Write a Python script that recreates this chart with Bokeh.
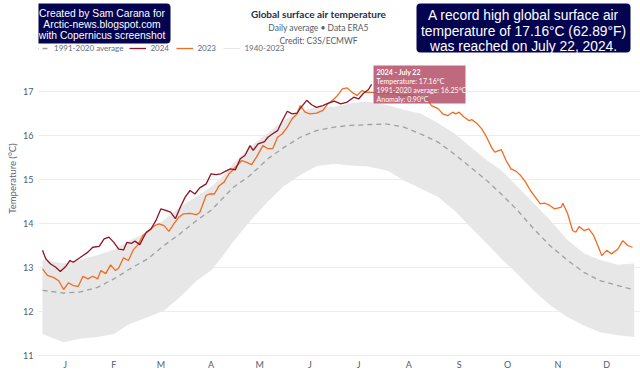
from bokeh.plotting import figure
from bokeh.models import Range1d, FixedTicker, Label, Legend, LegendItem, BoxAnnotation
from bokeh.embed import file_html
from bokeh.resources import INLINE

# ---------------- data (day of year, °C) ----------------
month_ticks = [15, 45, 74, 105, 135, 166, 196, 227, 258, 288, 319, 349]
month_labels = ["J", "F", "M", "A", "M", "J", "J", "A", "S", "O", "N", "D"]
y_ticks = [11, 12, 13, 14, 15, 16, 17]

day_2024 = [1, 3, 6, 9, 12, 15, 18, 20, 24, 29, 32, 36, 39, 42, 45, 48, 51, 53, 56, 58,
            61, 65, 68, 71, 74, 77, 80, 83, 86, 89, 92, 95, 98, 102, 105, 108, 111, 114,
            117, 120, 123, 126, 129, 131, 134, 138, 140, 143, 146, 149, 152, 155, 158,
            161, 164, 167, 170, 174, 177, 181, 185, 189, 193, 196, 199, 202, 204]
t_2024 = [13.39, 13.20, 13.08, 13.01, 12.91, 13.01, 13.16, 13.12, 13.22, 13.35, 13.46,
          13.48, 13.65, 13.69, 13.57, 13.42, 13.40, 13.57, 13.55, 13.60, 13.52, 13.80,
          13.88, 14.07, 14.33, 14.30, 14.26, 14.11, 14.37, 14.60, 14.75, 14.67, 14.81,
          14.90, 15.13, 15.11, 15.13, 15.19, 15.24, 15.22, 15.47, 15.55, 15.77, 15.66,
          15.81, 15.86, 15.96, 16.04, 16.11, 16.34, 16.55, 16.49, 16.51, 16.66, 16.80,
          16.70, 16.64, 16.68, 16.73, 16.78, 16.72, 16.76, 16.87, 16.83, 16.96, 17.04,
          17.16]

day_2023 = [1, 4, 8, 11, 14, 17, 20, 23, 26, 29, 32, 35, 37, 40, 43, 46, 48, 51, 54, 57,
            60, 63, 67, 70, 73, 76, 79, 82, 85, 88, 92, 96, 98, 102, 104, 107, 110, 113,
            116, 118, 121, 124, 127, 130, 133, 137, 140, 143, 146, 149, 152, 155, 158,
            160, 163, 166, 170, 174, 177, 180, 183, 186, 189, 192, 195, 198, 201, 204,
            210, 216, 222, 228, 234, 238, 241, 245, 248, 251, 254, 256, 258, 261, 264,
            266, 269, 272, 275, 278, 280, 284, 287, 290, 293, 296, 299, 302, 305, 308,
            311, 314, 317, 321, 322, 325, 328, 330, 332, 335, 338, 341, 344, 346, 349,
            352, 356, 359, 362, 365]
t_2023 = [12.97, 12.82, 12.77, 12.70, 12.50, 12.65, 12.59, 12.57, 12.80, 12.74, 12.80,
          12.74, 12.93, 12.86, 13.06, 12.93, 12.99, 13.22, 13.16, 13.40, 13.52, 13.73,
          13.84, 13.95, 13.99, 13.95, 13.82, 13.99, 14.14, 14.22, 14.23, 14.20, 14.25,
          14.64, 14.67, 14.67, 14.86, 14.94, 15.13, 15.20, 15.32, 15.43, 15.39, 15.34,
          15.51, 15.77, 15.70, 15.70, 15.96, 16.04, 16.19, 16.38, 16.49, 16.68, 16.53,
          16.49, 16.51, 16.57, 16.72, 16.80, 16.91, 17.06, 17.08, 16.98, 16.91, 17.02,
          16.98, 16.98, 16.95, 16.97, 16.90, 16.92, 16.88, 16.83, 16.68, 16.61, 16.49,
          16.45, 16.53, 16.49, 16.53, 16.42, 16.34, 16.36, 16.27, 16.15, 15.96, 15.73,
          15.62, 15.68, 15.43, 15.24, 15.19, 15.09, 14.94, 14.75, 14.60, 14.45, 14.46,
          14.41, 14.33, 14.37, 14.46, 14.22, 13.84, 13.80, 13.93, 13.84, 13.88, 13.73,
          13.46, 13.27, 13.39, 13.31, 13.42, 13.61, 13.50, 13.46]

avg_day = [1, 14, 24, 35, 45, 55, 66, 76, 86, 96, 105, 119, 129, 140, 150, 160, 170, 181,
           191, 204, 214, 224, 234, 245, 255, 265, 275, 284, 294, 304, 314, 325, 335, 345,
           356, 366]
avg_t = [12.48, 12.42, 12.44, 12.55, 12.74, 12.97, 13.20, 13.50, 13.77, 14.07, 14.30,
         14.83, 15.09, 15.47, 15.73, 15.96, 16.11, 16.19, 16.23, 16.25, 16.26, 16.19,
         16.04, 15.85, 15.58, 15.28, 14.98, 14.67, 14.30, 13.88, 13.50, 13.16, 12.89,
         12.70, 12.59, 12.49]

band_day = [1, 14, 24, 35, 45, 55, 66, 76, 86, 96, 105, 112, 119, 129, 140, 150, 160, 170,
            181, 191, 201, 214, 224, 234, 245, 255, 265, 275, 284, 294, 304, 314, 325, 335,
            345, 356, 366]
band_low = [11.49, 11.30, 11.38, 11.42, 11.49, 11.72, 11.87, 12.02, 12.33, 12.70, 12.93,
            13.25, 13.60, 14.05, 14.50, 14.85, 15.10, 15.30, 15.36, 15.32, 15.30, 15.20,
            14.98, 14.80, 14.60, 14.30, 13.92, 13.55, 13.20, 12.85, 12.48, 12.15, 11.87,
            11.68, 11.53, 11.46, 11.42]
band_high = [13.16, 13.08, 13.16, 13.27, 13.39, 13.61, 13.80, 14.07, 14.37, 14.60, 14.82,
             15.05, 15.36, 15.73, 16.04, 16.34, 16.53, 16.64, 16.64, 16.72, 16.76, 16.68,
             16.57, 16.49, 16.27, 16.04, 15.73, 15.43, 15.20, 14.83, 14.45, 14.07, 13.61,
             13.31, 13.16, 13.05, 13.08]

# ---------------- frame geometry (page px) and px -> data helpers for annotations ----------------
FRAME_L, FRAME_R = 38, 640
FRAME_T, FRAME_B = 0, 356
PX_PER_DAY = 1.621
PX_PER_DEG = 44.0
X_START = 1 - (42 - FRAME_L) / PX_PER_DAY
X_END = X_START + (FRAME_R - FRAME_L) / PX_PER_DAY
Y_START = 11 - (FRAME_B - 355) / PX_PER_DEG
Y_END = Y_START + (FRAME_B - FRAME_T) / PX_PER_DEG


def dx(px):
    return X_START + (px - FRAME_L) / PX_PER_DAY


def dy(py):
    return Y_START + (FRAME_B - py) / PX_PER_DEG


FONT = "Lato"
p = figure(width=640, height=373, frame_width=FRAME_R - FRAME_L,
           frame_height=FRAME_B - FRAME_T, output_backend="svg", toolbar_location=None,
           x_range=Range1d(X_START, X_END), y_range=Range1d(Y_START, Y_END),
           min_border_left=FRAME_L, min_border_right=0, min_border_top=0,
           min_border_bottom=16)
p.outline_line_color = None

p.xaxis.ticker = FixedTicker(ticks=month_ticks)
p.xaxis.major_label_overrides = {t: l for t, l in zip(month_ticks, month_labels)}
p.yaxis.ticker = FixedTicker(ticks=y_ticks)
for ax in (p.xaxis, p.yaxis):
    ax.axis_line_color = None
    ax.major_tick_line_color = None
    ax.minor_tick_line_color = None
    ax.major_tick_out = 0
    ax.major_tick_in = 0
    ax.major_label_text_font = FONT
    ax.major_label_text_font_size = "9px"
    ax.major_label_text_color = "#4f5b6e"
p.xaxis.major_label_standoff = 2
p.yaxis.major_label_standoff = 5
p.yaxis.axis_label = "Temperature (°C)"
p.yaxis.axis_label_text_font = FONT
p.yaxis.axis_label_text_font_style = "normal"
p.yaxis.axis_label_text_font_size = "9.5px"
p.yaxis.axis_label_text_color = "#5a6474"
p.yaxis.axis_label_standoff = 2
p.xgrid.grid_line_color = None
p.ygrid.grid_line_color = "#ececec"
p.ygrid.ticker = FixedTicker(ticks=y_ticks)

band = p.varea(x=band_day, y1=band_low, y2=band_high, fill_color="#e7e7e7")
band_line = p.line(band_day, band_high, line_color="#e7e7e7", line_width=1)
avg = p.line(avg_day, avg_t, line_color="#a0a0a0", line_dash="5 4", line_width=1.3)
l23 = p.line(day_2023, t_2023, line_color="#f26b21", line_width=1.3)
l24 = p.line(day_2024, t_2024, line_color="#8e1426", line_width=1.3)

legend = Legend(items=[LegendItem(label="1991-2020 average", renderers=[avg]),
                       LegendItem(label="2024", renderers=[l24]),
                       LegendItem(label="2023", renderers=[l23]),
                       LegendItem(label="1940-2023", renderers=[band_line])],
                orientation="horizontal", location=(-5, FRAME_B - 53), margin=0,
                padding=0, spacing=6, glyph_width=17, glyph_height=10, label_standoff=4,
                label_height=10, label_text_font=FONT, label_text_font_size="8px",
                label_text_color="#5f6b7c", border_line_color=None,
                background_fill_alpha=0)
p.add_layout(legend)

# ---------------- title ----------------
p.add_layout(Label(x=dx(318), y=dy(13), text="Global surface air temperature",
                   text_font=FONT, text_font_style="bold", text_font_size="10px",
                   text_color="#1f2d4d", text_align="center", text_baseline="middle"))
p.add_layout(Label(x=dx(318), y=dy(27), text="Daily average \u2022 Data ERA5",
                   text_font=FONT, text_font_size="8.5px", text_color="#555d6b",
                   text_align="center", text_baseline="middle"))
p.add_layout(Label(x=dx(318), y=dy(40), text="Credit: C3S/ECMWF",
                   text_font=FONT, text_font_size="8.5px", text_color="#555d6b",
                   text_align="center", text_baseline="middle"))

# ---------------- boxed notes ----------------
NAVY = "#030350"
p.add_layout(BoxAnnotation(left=dx(33), right=dx(170), top=dy(3), bottom=dy(43),
                           fill_color=NAVY, fill_alpha=1, line_color="#8888aa",
                           line_width=0.5, border_radius=4))
for i, line in enumerate(["Created by Sam Carana for", "Arctic-news.blogspot.com",
                          "with Copernicus screenshot"]):
    p.add_layout(Label(x=dx(101.5), y=dy(12.5 + 11 * i), text=line,
                       text_font="Liberation Sans", text_font_size="10.3px",
                       text_color="white", text_align="center", text_baseline="middle"))

p.add_layout(BoxAnnotation(left=dx(416), right=dx(630), top=dy(3), bottom=dy(52),
                           fill_color=NAVY, fill_alpha=1, line_color="#8888aa",
                           line_width=0.5, border_radius=4))
for i, line in enumerate(["A record high global surface air",
                          "temperature of 17.16°C (62.89°F)",
                          "was reached on July 22, 2024."]):
    p.add_layout(Label(x=dx(523), y=dy(15 + 15.5 * i), text=line,
                       text_font="Liberation Sans", text_font_size="13.8px",
                       text_color="white", text_align="center", text_baseline="middle"))

# ---------------- tooltip-like box at the 2024 record ----------------
p.add_layout(BoxAnnotation(left=dx(373), right=dx(465), top=dy(65), bottom=dy(103),
                           fill_color="#b5546c", fill_alpha=0.88, line_color=None))
tip_lines = ["2024 - July 22", "Temperature: 17.16°C", "1991-2020 average: 16.25°C",
             "Anomaly: 0.90°C"]
for i, line in enumerate(tip_lines):
    p.add_layout(Label(x=dx(376), y=dy(71 + 9 * i), text=line, text_font=FONT,
                       text_font_style="bold" if i == 0 else "normal",
                       text_font_size="7px", text_color="white",
                       text_align="left", text_baseline="middle"))

open("out.html", "w").write(file_html(p, INLINE))
